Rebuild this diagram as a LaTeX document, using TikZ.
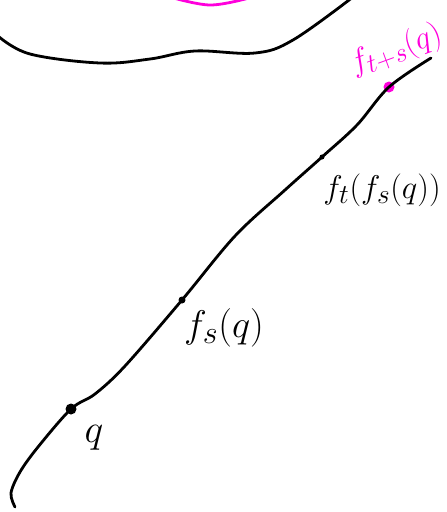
\documentclass[tikz,border=0pt]{standalone}
\definecolor{flowpink}{RGB}{255,0,220}
\begin{document}
\begin{tikzpicture}[x=1pt, y=-1pt,
  flowline/.style = {line width=2.8pt, black, line cap=round, line join=round},
  flowdot/.style = {circle, fill, inner sep=0pt},
  flowlbl/.style = {font=\Huge, inner sep=1pt}
]
  \useasboundingbox (0,0) rectangle (447,512);
  % points on the orbit
  \node[flowdot, minimum size=11pt] (q) at (71,409) {};
  \node[flowdot, minimum size=7pt] (fs) at (182,300) {};
  \node[flowdot, minimum size=5pt] (ft) at (322,157) {};
  \node[flowdot, flowpink, minimum size=11pt] (fts) at (389,87) {};
  % orbit
  \draw[flowline] plot[smooth, tension=0.55] coordinates {
    (15,507) (11,493) (20,472) (38,447) (q.center) (95,394)
    (125,366) (fs.center) (235,236) (285,190) (ft.center)
    (357,125) (fts.center) (431,58)};
  % boundary at the top
  \draw[flowline] plot[smooth, tension=0.6] coordinates {
    (-2,36) (30,54) (100,63) (150,59) (195,51) (255,53)
    (293,40) (353,-3)};
  \draw[flowline, flowpink] plot[smooth, tension=0.6] coordinates {
    (170,-3) (210,5) (249,-2)};
  % labels
  \node[flowlbl, scale=1.6] (qlbl) at (94,438) {$q$};
  \node[flowlbl, scale=1.55] (fslbl) at (224,328) {$f_s(q)$};
  \node[flowlbl, scale=1.32] (ftlbl) at (382,190) {$f_t(f_s(q))$};
  \node[flowlbl, flowpink, scale=1.3, rotate=20] (ftslbl) at (396,50) {$f_{t+s}(q)$};
\end{tikzpicture}
\end{document}
